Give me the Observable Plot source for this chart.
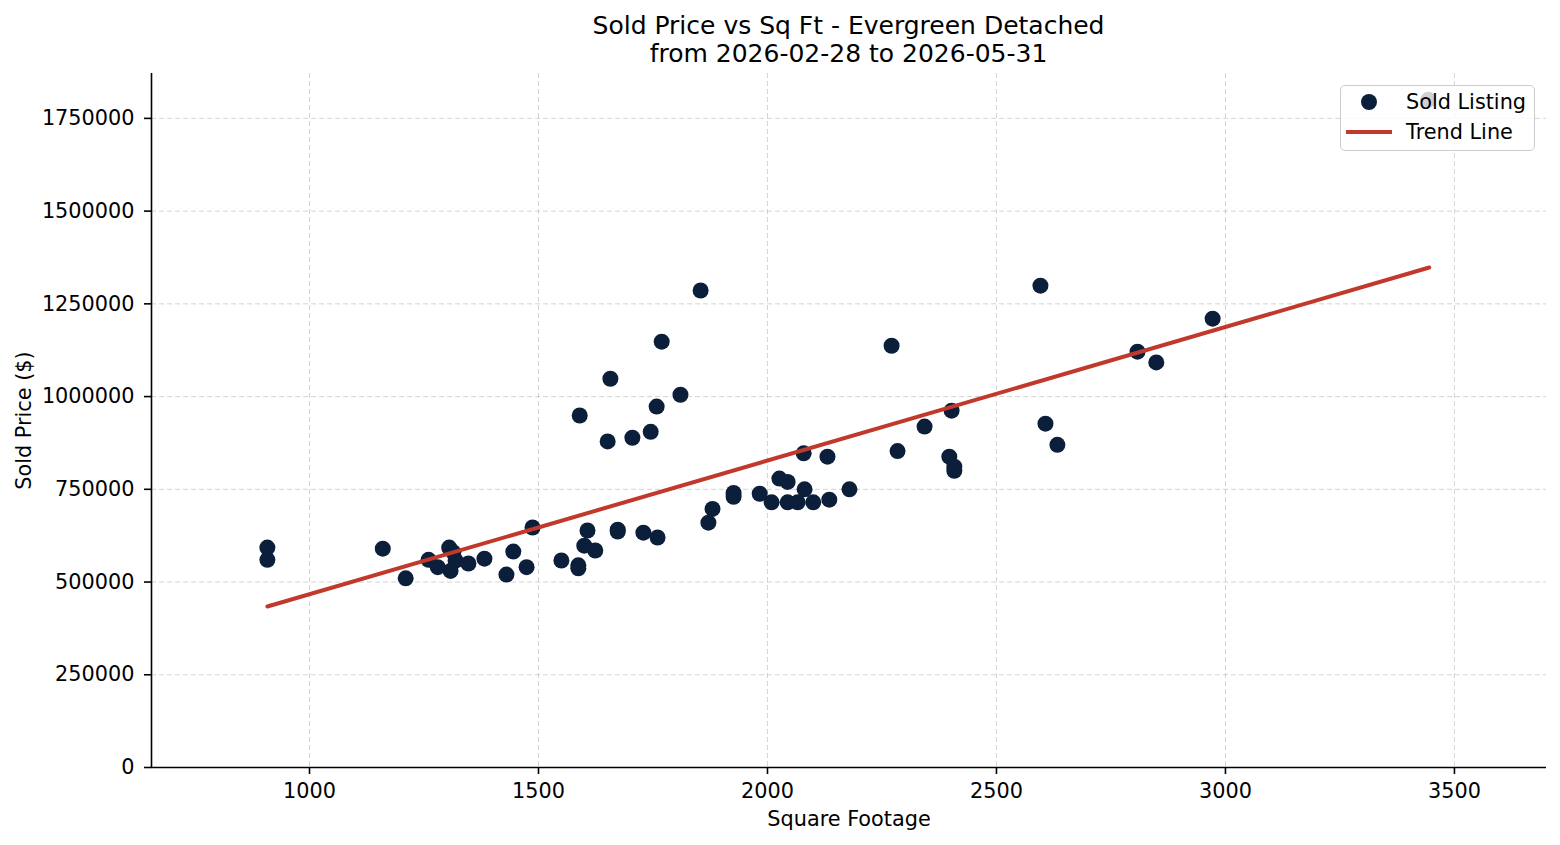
<!DOCTYPE html>
<html>
<head>
<meta charset="utf-8">
<script src="https://cdn.jsdelivr.net/npm/d3@7"></script>
<script src="https://cdn.jsdelivr.net/npm/@observablehq/plot@0.6"></script>
<style>
  html, body { margin: 0; padding: 0; background: white; }
  #wrap { position: relative; width: 1560px; height: 845px; font-family: "DejaVu Sans", sans-serif; }
  #title { box-sizing: border-box; height: 68px; padding-top: 12px; margin-left: 151px; width: 1395px;
           text-align: center; font-size: 25px; line-height: 28px; color: black; }
  #legend { position: absolute; left: 1340px; top: 85px; width: 195px; height: 66px; box-sizing: border-box;
            border: 1px solid #cccccc; border-radius: 5px; background: rgba(255,255,255,0.8); }
  #legend svg { position: absolute; left: -1px; top: -1px; }
</style>
</head>
<body>
<div id="wrap">
  <div id="title">Sold Price vs Sq Ft - Evergreen Detached<br>from 2026-02-28 to 2026-05-31</div>
  <div id="chart"></div>
  <div id="legend"></div>
</div>
<script>
// Data
const sqft = [908, 908, 1160, 1210, 1260, 1280, 1305, 1314, 1308, 1319, 1347, 1382, 1430, 1445, 1474, 1487,
  1550, 1587, 1587, 1590, 1600, 1607, 1624, 1651, 1657, 1673, 1673, 1705, 1729, 1745, 1758, 1760, 1769,
  1810, 1854, 1871, 1880, 1926, 1926, 1983, 2009, 2026, 2044, 2044, 2066, 2079, 2081, 2100, 2131, 2135,
  2179, 2271, 2284, 2343, 2397, 2402, 2408, 2408, 2596, 2607, 2633, 2808, 2849, 2972, 3443];
const price = [593000, 560000, 590000, 510000, 560000, 540000, 593000, 580000, 530000, 558000, 550000, 563000,
  520000, 582000, 540000, 647000, 558000, 545000, 537000, 949000, 598000, 639000, 585000, 879000, 1048000,
  641000, 636000, 889000, 633000, 905000, 973000, 620000, 1148000, 1005000, 1286000, 660000, 697000, 740000,
  730000, 738000, 715000, 779000, 770000, 715000, 715000, 847000, 750000, 715000, 838000, 722000, 750000,
  1137000, 853000, 919000, 838000, 962000, 811000, 800000, 1299000, 927000, 870000, 1121000, 1092000,
  1210000, 1800000];
const trendSqft = [908, 3445];
const trendPrice = [434000, 1348000];
const xTicks = [1000, 1500, 2000, 2500, 3000, 3500];
const yTicks = [0, 250000, 500000, 750000, 1000000, 1250000, 1500000, 1750000];
const seriesNames = ["Sold Listing", "Trend Line"];

const dotColor = "#0b1f3a";
const lineColor = "#c0392b";
const fs = 20.8;

const listings = sqft.map((x, i) => ({x, y: price[i]}));
const trend = trendSqft.map((x, i) => ({x, y: trendPrice[i]}));

const chart = Plot.plot({
  width: 1560,
  height: 777,
  marginTop: 5,
  marginBottom: 78,
  marginLeft: 151,
  marginRight: 14,
  style: {fontFamily: "DejaVu Sans, sans-serif", fontSize: fs + "px", color: "black", background: "white", overflow: "visible"},
  x: {domain: [655, 3701]},
  y: {domain: [0, 1871000]},
  marks: [
    Plot.gridX(xTicks, {stroke: "#b0b0b0", strokeOpacity: 0.55, strokeWidth: 1, strokeDasharray: "5,3"}),
    Plot.gridY(yTicks, {stroke: "#b0b0b0", strokeOpacity: 0.55, strokeWidth: 1, strokeDasharray: "5,3"}),
    Plot.axisX({ticks: xTicks, tickSize: 7, tickPadding: 9, tickFormat: d3.format("d"), label: null, strokeWidth: 1.6}),
    Plot.axisY({ticks: yTicks, tickSize: 7, tickPadding: 10, tickFormat: d3.format("d"), label: null, strokeWidth: 1.6}),
    Plot.dot(listings, {x: "x", y: "y", r: 8, fill: dotColor}),
    Plot.line(trend, {x: "x", y: "y", stroke: lineColor, strokeWidth: 4}),
    Plot.ruleY([0], {stroke: "black", strokeWidth: 1.6}),
    Plot.ruleX([655], {stroke: "black", strokeWidth: 1.6}),
    Plot.text(["Square Footage"], {text: d => d, frameAnchor: "bottom", dy: 58, fontSize: fs}),
    Plot.text(["Sold Price ($)"], {text: d => d, frameAnchor: "left", textAnchor: "middle", dx: -127, rotate: -90, fontSize: fs})
  ]
});
document.getElementById("chart").appendChild(chart);

// Legend
const lg = d3.select("#legend").append("svg").attr("width", 195).attr("height", 66)
  .style("font-family", "DejaVu Sans, sans-serif").style("font-size", fs + "px");
lg.append("circle").attr("cx", 29).attr("cy", 17).attr("r", 8).attr("fill", dotColor);
lg.append("line").attr("x1", 6).attr("x2", 52).attr("y1", 47).attr("y2", 47)
  .attr("stroke", lineColor).attr("stroke-width", 4);
lg.append("text").attr("x", 66).attr("y", 17).attr("dy", "0.35em").text(seriesNames[0]);
lg.append("text").attr("x", 66).attr("y", 47).attr("dy", "0.35em").text(seriesNames[1]);
</script>
</body>
</html>
